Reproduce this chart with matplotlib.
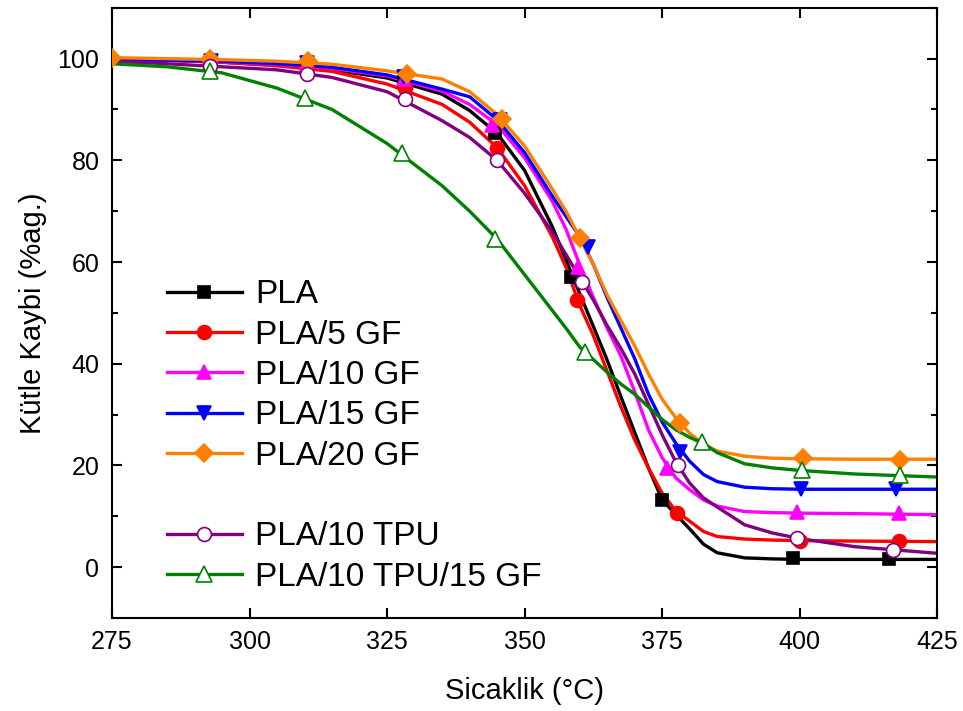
import matplotlib
matplotlib.use('Agg')
import matplotlib.pyplot as plt
from matplotlib.ticker import MultipleLocator

plt.rcParams['font.family'] = ['Liberation Sans', 'DejaVu Sans']

# temperature grid the curves were read at
T = [275, 285, 295, 305, 315, 325, 335, 340, 345, 350, 355, 357.5, 360, 362.5, 365,
     367.5, 370, 372.5, 375, 377.5, 380, 382.5, 385, 390, 395, 400, 410, 425]

pla = [100, 99.7, 99.3, 98.7, 97.8, 96.2, 93, 89.8, 85.3, 78, 67, 60.5, 53.8, 47.3, 40.7,
       33.5, 26.5, 19.5, 13.2, 10.3, 7.5, 4.5, 2.8, 1.8, 1.6, 1.5, 1.5, 1.5]
pla5 = [100, 99.7, 99.3, 98.6, 97.5, 95, 91, 87.5, 82.5, 75, 65, 59, 51.5, 45.5, 38.5,
        31.5, 25, 19.5, 14.5, 11, 9, 7, 6, 5.5, 5.3, 5.2, 5.1, 5.0]
pla10 = [100, 99.7, 99.4, 98.9, 98.1, 96.6, 93.6, 91, 87, 80.5, 72, 66.5, 59.5, 53, 47,
         41.5, 34.5, 27, 21.5, 17.5, 15.2, 13.2, 12, 10.9, 10.7, 10.6, 10.5, 10.3]
pla15 = [99.8, 99.7, 99.5, 99, 98.3, 96.8, 94, 92.5, 88, 81.5, 73, 69, 65, 59.5, 53,
         47, 41, 34, 28.5, 24.3, 20.8, 18.2, 16.8, 15.7, 15.4, 15.3, 15.3, 15.3]
pla20 = [100.2, 100, 99.8, 99.5, 98.9, 97.6, 96, 93.5, 89, 82.8, 74.4, 70, 64.8, 59.5, 53.5,
         48.5, 43.5, 38, 33, 29.3, 26.3, 24.2, 22.8, 21.8, 21.4, 21.3, 21.2, 21.2]
tpu = [99.5, 99, 98.4, 97.8, 96.3, 93.5, 87.8, 84.5, 80, 73.5, 66, 61.5, 57, 52.5, 47.5,
       43, 38, 32, 26, 20.6, 16.5, 13.6, 11.8, 8.3, 6.7, 5.6, 4, 2.7]
tpu_gf = [99, 98.4, 97.2, 94.2, 90, 83.3, 75, 70, 64.5, 57.5, 50.5, 47, 43.3, 40.8, 38.3,
          36, 34, 31.5, 29, 27, 25.5, 24.3, 22.5, 20.3, 19.5, 19, 18.3, 17.7]

# marker points
pla_mx = [293, 310.5, 328, 344.6, 358.5, 375, 398.8, 416.2]
pla_my = [99.4, 98.5, 95.5, 85.3, 57, 13.2, 1.7, 1.6]
pla5_mx = [292.8, 310.5, 328.3, 345, 359.5, 377.7, 400, 418]
pla5_my = [99.4, 98.2, 94.3, 82.5, 52.5, 10.6, 5.2, 5.1]
pla10_mx = [293, 310.5, 328, 344, 359.7, 375.9, 399.5, 418]
pla10_my = [99.5, 99, 96, 87, 59, 19.4, 10.8, 10.6]
pla15_mx = [293, 310.5, 328, 345.5, 361.5, 378.3, 400.3, 417.5]
pla15_my = [99.6, 99.2, 96.3, 88, 62.9, 22.6, 15.3, 15.3]
pla20_mx = [275, 292.8, 310.6, 328.6, 345.9, 360, 378.3, 400.6, 418.3]
pla20_my = [100.2, 99.9, 99.6, 97, 88.2, 64.8, 28.3, 21.4, 21.1]
tpu_mx = [292.8, 310.5, 328.3, 345, 360.5, 377.9, 399.5, 417]
tpu_my = [98.6, 97, 92.1, 80, 56, 20, 5.7, 3.3]
tpu_gf_mx = [292.8, 310.1, 327.7, 344.6, 361, 382.3, 400.5, 418.3]
tpu_gf_my = [97.6, 92.3, 81.5, 64.6, 42.2, 24.6, 19, 18.1]

fig = plt.figure(figsize=(9.63, 7.11), dpi=100)
ax = fig.add_axes([0.1163, 0.131, 0.857, 0.858])

series = [
    ('PLA', pla, pla_mx, pla_my, 'black', 's', 'black', 9),
    ('PLA/5 GF', pla5, pla5_mx, pla5_my, '#ff0000', 'o', '#ff0000', 10),
    ('PLA/10 GF', pla10, pla10_mx, pla10_my, '#ff00ff', '^', '#ff00ff', 10),
    ('PLA/15 GF', pla15, pla15_mx, pla15_my, '#0000ff', 'v', '#0000ff', 10),
    ('PLA/20 GF', pla20, pla20_mx, pla20_my, '#ff8000', 'D', '#ff8000', 9),
    (' ', None, None, None, 'none', None, 'none', 0),
    ('PLA/10 TPU', tpu, tpu_mx, tpu_my, '#800080', 'o', 'white', 10),
    ('PLA/10 TPU/15 GF', tpu_gf, tpu_gf_mx, tpu_gf_my, '#008000', '^', 'white', 11),
]

handles = []
for name, y, mx, my, col, mk, face, ms in series:
    if y is None:
        h, = ax.plot([], [], color='none', label=name)
        handles.append(h)
        continue
    ax.plot(T, y, color=col, lw=2.4, zorder=2)
    ax.plot(mx, my, ls='none', marker=mk, ms=ms, mfc=face, mec=col, mew=1.2, zorder=3)
    h, = ax.plot([], [], color=col, lw=2.4, marker=mk, ms=ms, mfc=face, mec=col,
                 mew=1.2, label=name)
    handles.append(h)

ax.set_xlim(275, 425)
ax.set_ylim(-10, 110)
ax.xaxis.set_major_locator(MultipleLocator(25))
ax.yaxis.set_major_locator(MultipleLocator(20))
ax.yaxis.set_minor_locator(MultipleLocator(10))
ax.tick_params(which='both', direction='in', top=True, right=True, width=1.5)
ax.tick_params(which='major', length=7, labelsize=18, pad=9)
ax.tick_params(which='minor', length=4)
for s in ax.spines.values():
    s.set_linewidth(1.5)

ax.set_xlabel('Sicaklik (°C)', fontsize=21, labelpad=16)
ax.set_ylabel('Kütle Kaybi (%ag.)', fontsize=21, labelpad=8)

ax.legend(handles=handles, loc='upper left', bbox_to_anchor=(0.05, 0.577),
          frameon=False, fontsize=24, handlelength=2.25, handletextpad=0.4,
          labelspacing=0.28, borderaxespad=0)

fig.savefig('out.png', dpi=100)
